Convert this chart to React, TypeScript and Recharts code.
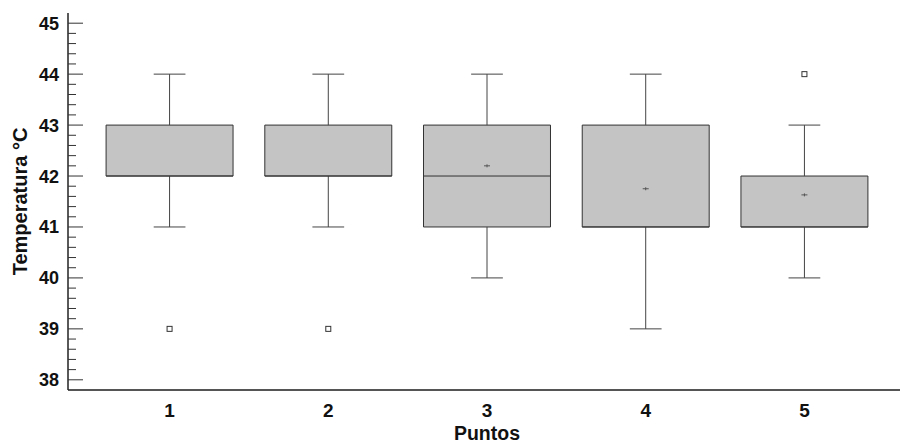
import { ComposedChart, ReferenceArea, ReferenceLine, Scatter, XAxis, YAxis } from "recharts";

// Diagrama de cajas: temperatura por punto de medición
const puntos = [1, 2, 3, 4, 5];
const minimos = [41, 41, 40, 39, 40];
const cuartil1 = [42, 42, 41, 41, 41];
const medianas = [42, 42, 42, 41, 41];
const cuartil3 = [43, 43, 43, 43, 42];
const maximos = [44, 44, 44, 44, 43];
const medias: (number | null)[] = [null, null, 42.2, 41.75, 41.63];

const atipicosX = [1, 2, 5];
const atipicosY = [39, 39, 44];

const ticksMayores = [38, 39, 40, 41, 42, 43, 44, 45];

const FONT = '"Liberation Sans", Arial, sans-serif';
const BOX_HALF = 0.4;
const CAP_HALF = 0.1;
const X_DOMAIN: [number, number] = [0.36, 5.64];
const Y_DOMAIN: [number, number] = [37.8, 45.2];

// marcas menores cada 0.2 entre las mayores
const ticksY: number[] = [];
ticksMayores.forEach((t, i) => {
  ticksY.push(t);
  if (i < ticksMayores.length - 1) {
    for (let k = 1; k < 5; k++) ticksY.push(+(t + k * 0.2).toFixed(1));
  }
});

const esMayor = (v: number) => Math.abs(v - Math.round(v)) < 1e-6;

const atipicos = atipicosX.map((x, i) => ({ x, y: atipicosY[i] }));
const puntosMedia = puntos
  .map((x, i) => ({ x, y: medias[i] }))
  .filter((d) => d.y !== null);

function TickIzq({ x, y, payload }: any) {
  const mayor = esMayor(payload.value);
  return (
    <g>
      <line x1={x} x2={x + (mayor ? 15 : 8)} y1={y} y2={y} stroke="#333" strokeWidth={1} />
      {mayor ? (
        <text x={x - 9} y={y + 6.5} textAnchor="end" fontFamily={FONT} fontWeight="bold" fontSize={18} fill="#111">
          {Math.round(payload.value)}
        </text>
      ) : null}
    </g>
  );
}

function TickDer({ x, y, payload }: any) {
  const mayor = esMayor(payload.value);
  return <line x1={x} x2={x - (mayor ? 14 : 8)} y1={y} y2={y} stroke="#333" strokeWidth={1} />;
}

function TickX({ x, y, payload }: any) {
  return (
    <text x={x} y={y + 27} textAnchor="middle" fontFamily={FONT} fontWeight="bold" fontSize={19} fill="#111">
      {payload.value}
    </text>
  );
}

function Atipico({ cx, cy }: any) {
  return <rect x={cx - 2.5} y={cy - 2.5} width={5} height={5} fill="#fff" stroke="#333" strokeWidth={1} />;
}

function Media({ cx, cy }: any) {
  return (
    <g stroke="#555" strokeWidth={1}>
      <line x1={cx - 3} x2={cx + 3} y1={cy} y2={cy} />
      <line x1={cx} x2={cx} y1={cy - 1.5} y2={cy + 1.5} />
    </g>
  );
}

export default function App() {
  return (
    <div style={{ position: "absolute", left: 0, top: 0, width: 900, height: 446, overflow: "hidden", background: "#fff" }}>
      <ComposedChart width={920} height={446} margin={{ top: 13, right: 14, bottom: 0, left: 0 }}>
        <XAxis
          type="number"
          dataKey="x"
          domain={X_DOMAIN}
          ticks={puntos}
          interval={0}
          height={56}
          tickSize={0}
          tickMargin={0}
          tick={<TickX />}
          axisLine={{ stroke: "#555", strokeWidth: 2 }}
          label={{ value: "Puntos", position: "insideBottom", offset: 6, fontFamily: FONT, fontWeight: "bold", fontSize: 19.5, fill: "#111" }}
        />
        <XAxis xAxisId="top" orientation="top" type="number" domain={X_DOMAIN} height={0} tick={false} tickLine={false} axisLine={{ stroke: "#444", strokeWidth: 1.5 }} />
        <YAxis
          type="number"
          domain={Y_DOMAIN}
          ticks={ticksY}
          interval={0}
          width={68}
          tickSize={0}
          tickMargin={0}
          tickLine={false}
          tick={<TickIzq />}
          axisLine={{ stroke: "#222", strokeWidth: 1.5 }}
          label={{
            value: "Temperatura °C",
            angle: -90,
            position: "insideLeft",
            offset: 20,
            fontFamily: FONT,
            fontWeight: "bold",
            fontSize: 20,
            fill: "#111",
            style: { textAnchor: "middle" },
          }}
        />
        <YAxis
          yAxisId="der"
          orientation="right"
          type="number"
          domain={Y_DOMAIN}
          ticks={ticksY}
          interval={0}
          width={0}
          tickSize={0}
          tickMargin={0}
          tickLine={false}
          tick={<TickDer />}
          axisLine={{ stroke: "#222", strokeWidth: 1.5 }}
        />

        {puntos.map((p, i) => (
          <ReferenceLine
            key={`bigote-sup-${p}`}
            segment={[{ x: p, y: cuartil3[i] }, { x: p, y: maximos[i] }]}
            stroke="#444"
            strokeWidth={1}
          />
        ))}
        {puntos.map((p, i) => (
          <ReferenceLine
            key={`bigote-inf-${p}`}
            segment={[{ x: p, y: minimos[i] }, { x: p, y: cuartil1[i] }]}
            stroke="#444"
            strokeWidth={1}
          />
        ))}
        {puntos.map((p, i) => (
          <ReferenceLine
            key={`tope-sup-${p}`}
            segment={[{ x: p - CAP_HALF, y: maximos[i] }, { x: p + CAP_HALF, y: maximos[i] }]}
            stroke="#444"
            strokeWidth={1}
          />
        ))}
        {puntos.map((p, i) => (
          <ReferenceLine
            key={`tope-inf-${p}`}
            segment={[{ x: p - CAP_HALF, y: minimos[i] }, { x: p + CAP_HALF, y: minimos[i] }]}
            stroke="#444"
            strokeWidth={1}
          />
        ))}
        {puntos.map((p, i) => (
          <ReferenceArea
            key={`caja-${p}`}
            x1={p - BOX_HALF}
            x2={p + BOX_HALF}
            y1={cuartil1[i]}
            y2={cuartil3[i]}
            fill="#c4c4c4"
            fillOpacity={1}
            stroke="#333"
            strokeWidth={1}
          />
        ))}
        {puntos.map((p, i) => (
          <ReferenceLine
            key={`mediana-${p}`}
            segment={[{ x: p - BOX_HALF, y: medianas[i] }, { x: p + BOX_HALF, y: medianas[i] }]}
            stroke="#333"
            strokeWidth={1}
          />
        ))}

        <Scatter data={puntosMedia} dataKey="y" shape={<Media />} isAnimationActive={false} />
        <Scatter data={atipicos} dataKey="y" shape={<Atipico />} isAnimationActive={false} />
      </ComposedChart>
    </div>
  );
}
